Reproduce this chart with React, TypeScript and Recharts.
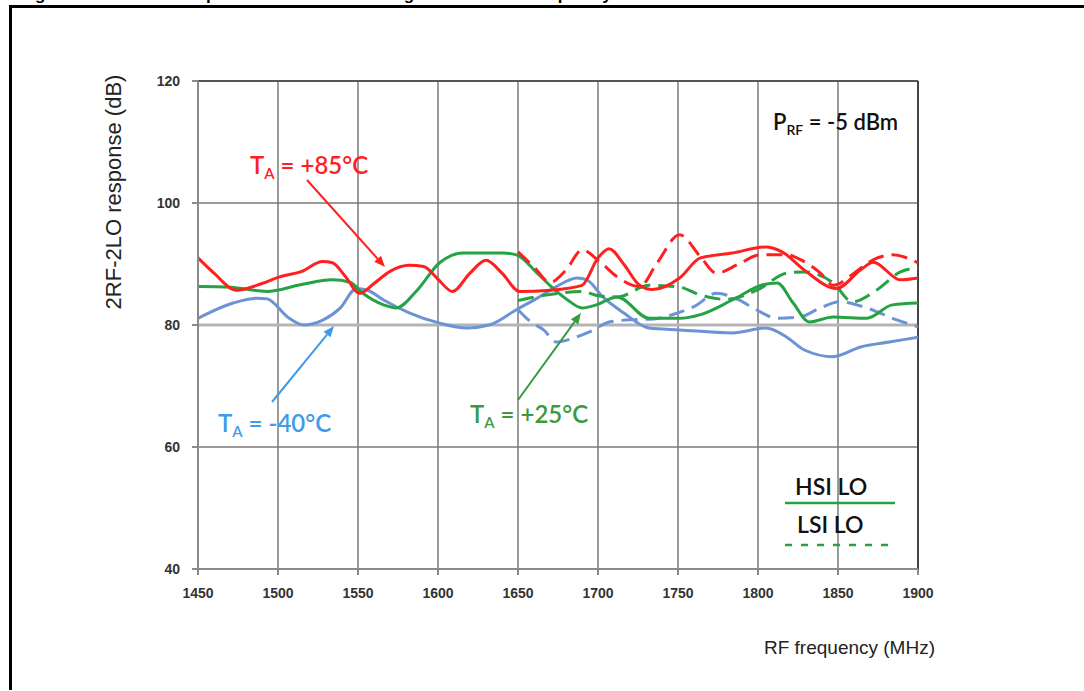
import React from "react";
import { LineChart, Line, XAxis, YAxis, CartesianGrid, ReferenceLine } from "recharts";

const FREQ_TICKS = [1450, 1500, 1550, 1600, 1650, 1700, 1750, 1800, 1850, 1900];
const DB_TICKS = [40, 60, 80, 100, 120];

// T = -40 °C
const blueHsiFreq = [1450, 1472, 1487, 1493, 1507, 1516, 1528, 1539, 1549, 1556, 1566, 1582, 1601, 1618, 1632, 1649, 1662, 1674, 1687, 1693, 1703, 1716, 1732, 1751, 1784, 1805, 1818, 1829, 1847, 1864, 1882, 1900];
const blueHsiDb = [81.1, 83.6, 84.4, 84.3, 81.1, 80, 80.8, 82.8, 86, 85.7, 84.1, 82, 80.3, 79.5, 80, 82.5, 84.4, 86.3, 87.7, 87.4, 84.6, 82, 79.5, 79.2, 78.7, 79.5, 78, 75.9, 74.8, 76.4, 77.2, 78];
const blueLsiFreq = [1650, 1658, 1666, 1674, 1684, 1695, 1707, 1717, 1735, 1750, 1760, 1774, 1788, 1799, 1812, 1826, 1839, 1851, 1868, 1884, 1900];
const blueLsiDb = [82.5, 80.5, 79.2, 77.2, 77.8, 78.9, 80.5, 80.8, 81, 82, 83, 85.2, 84.1, 82.5, 81.1, 81.3, 82.8, 83.8, 82.8, 81.1, 79.7];

// T = +25 °C
const greenHsiFreq = [1450, 1470, 1493, 1514, 1534, 1545, 1553, 1566, 1574, 1587, 1601, 1616, 1641, 1649, 1662, 1672, 1681, 1690, 1699, 1712, 1732, 1751, 1764, 1784, 1803, 1812, 1822, 1832, 1847, 1868, 1884, 1900];
const greenHsiDb = [86.3, 86.2, 85.5, 86.6, 87.4, 87, 85.2, 83.3, 82.8, 85.7, 90.2, 91.8, 91.8, 91.5, 88.5, 86, 84.1, 82.8, 83.3, 84.6, 81.1, 81.1, 81.7, 84.1, 86.6, 86.9, 83.6, 80.5, 81.3, 81.1, 83.3, 83.6];
const greenLsiFreq = [1650, 1670, 1690, 1700, 1712, 1732, 1751, 1764, 1780, 1800, 1818, 1829, 1847, 1859, 1874, 1889, 1900];
const greenLsiDb = [84, 85, 85.5, 84.8, 84.6, 86.5, 86.2, 84.9, 84.2, 85.8, 88.5, 88.7, 86.9, 83.8, 85.7, 88.7, 89.4];

// T = +85 °C
const redHsiFreq = [1450, 1460, 1474, 1490, 1501, 1514, 1528, 1534, 1542, 1551, 1560, 1570, 1582, 1591, 1600, 1609, 1620, 1630, 1640, 1651, 1670, 1690, 1700, 1707, 1716, 1726, 1734, 1751, 1764, 1784, 1805, 1815, 1829, 1849, 1864, 1872, 1889, 1900];
const redHsiDb = [91, 88.5, 85.7, 86.8, 87.9, 88.7, 90.4, 90.2, 88, 85.2, 86.8, 88.8, 89.8, 89.6, 87.5, 85.5, 88.5, 90.6, 88.5, 85.5, 85.7, 86.5, 91, 92.5, 90, 86.5, 85.8, 87.7, 91, 91.8, 92.8, 92, 89, 86, 89, 90.3, 87.4, 87.7];
const redLsiFreq = [1650, 1660, 1670, 1680, 1690, 1701, 1712, 1726, 1737, 1751, 1764, 1774, 1788, 1801, 1818, 1828, 1839, 1847, 1860, 1872, 1884, 1900];
const redLsiDb = [92, 89.5, 87, 89, 92.3, 90.4, 87.9, 86.3, 90.2, 94.8, 91.2, 88.5, 90, 91.5, 91.5, 90.5, 88.5, 86.5, 88.5, 90.7, 91.5, 90.2];

const toRows = (f: number[], v: number[]) => f.map((x, i) => ({ f: x, v: v[i] }));

const RED = "#ff1f1f";
const GREEN = "#25a244";
const BLUE = "#6b93d6";
const ANN_FONT = "Lato, 'Open Sans', sans-serif";
const AXIS_FONT = "'Liberation Sans', Arial, sans-serif";

const series = [
  { key: "b1", data: toRows(blueHsiFreq, blueHsiDb), color: BLUE, dash: undefined },
  { key: "b2", data: toRows(blueLsiFreq, blueLsiDb), color: BLUE, dash: "16 8" },
  { key: "g1", data: toRows(greenHsiFreq, greenHsiDb), color: GREEN, dash: undefined },
  { key: "g2", data: toRows(greenLsiFreq, greenLsiDb), color: GREEN, dash: "16 8" },
  { key: "r1", data: toRows(redHsiFreq, redHsiDb), color: RED, dash: undefined },
  { key: "r2", data: toRows(redLsiFreq, redLsiDb), color: RED, dash: "16 8" },
];

function TempLabel({ x, y, value, color }: { x: number; y: number; value: string; color: string }) {
  return (
    <text x={x} y={y} fill={color} fontFamily={ANN_FONT} fontWeight={600} fontSize={24}>
      T<tspan fontSize={15} dy={5}>A</tspan>
      <tspan dy={-5}>{" = " + value}</tspan>
    </text>
  );
}

function Arrow({ x1, y1, x2, y2, color }: { x1: number; y1: number; x2: number; y2: number; color: string }) {
  const a = Math.atan2(y2 - y1, x2 - x1);
  const L = 11, W = 4.5;
  const bx = x2 - L * Math.cos(a), by = y2 - L * Math.sin(a);
  const p1 = `${bx + W * Math.sin(a)},${by - W * Math.cos(a)}`;
  const p2 = `${bx - W * Math.sin(a)},${by + W * Math.cos(a)}`;
  return (
    <g>
      <line x1={x1} y1={y1} x2={bx} y2={by} stroke={color} strokeWidth={2} />
      <polygon points={`${x2},${y2} ${p1} ${p2}`} fill={color} />
    </g>
  );
}

export default function App() {
  return (
    <div style={{ position: "absolute", left: 0, top: 0, width: 1084, height: 691, background: "#fff", overflow: "hidden" }}>
      <div style={{ position: "absolute", left: 0, top: 0 }}>
        <LineChart width={1084} height={691} margin={{ top: 81, right: 166, bottom: 92, left: 128 }}>
          <CartesianGrid stroke="#7a7a7a" strokeWidth={1.5} horizontalValues={[60, 100]} verticalValues={FREQ_TICKS} />
          <ReferenceLine y={120} stroke="#555" strokeWidth={2} />
          <ReferenceLine y={80} stroke="#b4b4b4" strokeWidth={3} />
          <ReferenceLine x={1900} stroke="#444" strokeWidth={2} />
          <XAxis
            dataKey="f"
            type="number"
            domain={[1450, 1900]}
            ticks={FREQ_TICKS}
            allowDuplicatedCategory={false}
            height={30}
            stroke="#8a8a8a"
            strokeWidth={2}
            tickSize={6}
            tickMargin={13}
            tick={{ fill: "#333", fontSize: 14, fontWeight: 700, fontFamily: AXIS_FONT }}
          />
          <YAxis
            dataKey="v"
            type="number"
            domain={[40, 120]}
            ticks={DB_TICKS}
            width={70}
            stroke="#8a8a8a"
            strokeWidth={2}
            tickSize={6}
            tickMargin={12}
            tick={{ fill: "#333", fontSize: 14, fontWeight: 700, fontFamily: AXIS_FONT }}
          />
          {series.map((s) => (
            <Line
              key={s.key}
              data={s.data}
              dataKey="v"
              type="monotone"
              stroke={s.color}
              strokeWidth={3}
              strokeDasharray={s.dash}
              dot={false}
              activeDot={false}
              isAnimationActive={false}
            />
          ))}
        </LineChart>
      </div>
      <svg width={1084} height={691} style={{ position: "absolute", left: 0, top: 0, pointerEvents: "none", overflow: "hidden" }}>
        <text x={20} y={-0.5} fontFamily={AXIS_FONT} fontWeight={700} fontSize={17} fill="#000">
          Figure 29. 2RF-2LO response with LNA set to high mode vs RF frequency
        </text>
        <line x1={10} y1={6.5} x2={1084} y2={6.5} stroke="#000" strokeWidth={3} />
        <line x1={10.5} y1={5} x2={10.5} y2={690} stroke="#000" strokeWidth={3} />
        <text
          transform="translate(121,192) rotate(-90)"
          textAnchor="middle"
          fontFamily={AXIS_FONT}
          fontSize={22}
          fill="#222"
        >
          2RF-2LO response (dB)
        </text>
        <text x={935} y={654} textAnchor="end" fontFamily={AXIS_FONT} fontSize={19} fill="#222">
          RF frequency (MHz)
        </text>
        <TempLabel x={250} y={174} value="+85°C" color={RED} />
        <Arrow x1={307} y1={180} x2={385} y2={267} color={RED} />
        <TempLabel x={218} y={432} value="-40°C" color="#3d9be9" />
        <Arrow x1={272} y1={402} x2={334} y2={326} color="#3d9be9" />
        <TempLabel x={470} y={423} value="+25°C" color="#3a9a3f" />
        <Arrow x1={518} y1={400} x2={581} y2={313} color="#3a9a3f" />
        <text x={773} y={130} fill="#111" fontFamily={ANN_FONT} fontWeight={600} fontSize={22}>
          P<tspan fontSize={14} dy={5}>RF</tspan>
          <tspan dy={-5}>{" = -5 dBm"}</tspan>
        </text>
        <text x={795} y={495} fill="#111" fontFamily={ANN_FONT} fontWeight={600} fontSize={23}>HSI LO</text>
        <line x1={785} y1={503} x2={895} y2={503} stroke={GREEN} strokeWidth={2.5} />
        <text x={797} y={533} fill="#111" fontFamily={ANN_FONT} fontWeight={600} fontSize={23}>LSI LO</text>
        <line x1={785} y1={545} x2={895} y2={545} stroke={GREEN} strokeWidth={2.5} strokeDasharray="7 9" />
      </svg>
    </div>
  );
}
